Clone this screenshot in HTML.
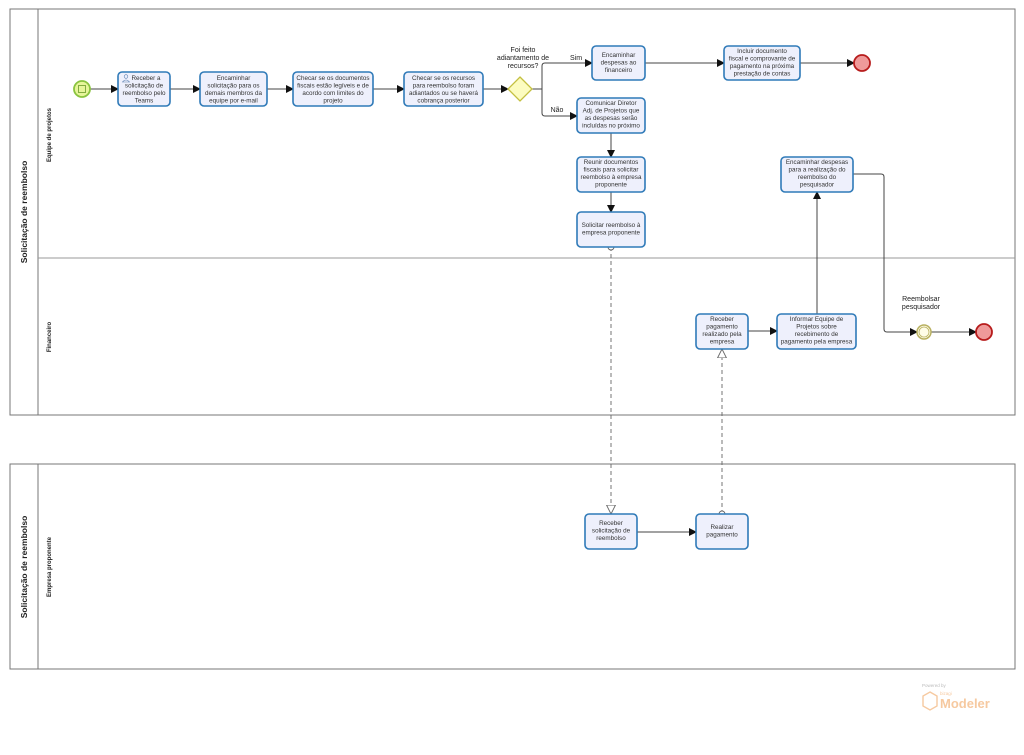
<!DOCTYPE html>
<html><head><meta charset="utf-8"><style>
html,body{margin:0;padding:0;background:#fff;}
svg{display:block;font-family:"Liberation Sans",sans-serif;}
.t{fill:#eef0fc;stroke:#2f7ab8;stroke-width:1.6;}
.tx{font-size:6.3px;fill:#333;text-anchor:middle;}
.ln{stroke:#444;stroke-width:1;fill:none;}
.ms{stroke:#666;stroke-width:0.9;fill:none;stroke-dasharray:4,3;}
.lb{font-size:7px;fill:#222;text-anchor:middle;}
</style></head><body>
<svg width="1024" height="755" viewBox="0 0 1024 755" xmlns="http://www.w3.org/2000/svg">
<defs>
<marker id="a" markerWidth="8" markerHeight="8" refX="7" refY="4" orient="auto" markerUnits="userSpaceOnUse"><path d="M0,0 L8,4 L0,8 z" fill="#111"/></marker>
<marker id="h" markerWidth="10" markerHeight="10" refX="9" refY="5" orient="auto" markerUnits="userSpaceOnUse"><path d="M0,0.5 L9,5 L0,9.5 z" fill="#fff" stroke="#666" stroke-width="0.9"/></marker>
<marker id="o" markerWidth="8" markerHeight="8" refX="4" refY="4" orient="auto" markerUnits="userSpaceOnUse"><circle cx="4" cy="4" r="3" fill="#fff" stroke="#666" stroke-width="0.9"/></marker>
</defs>
<!-- Pool 1 -->
<rect x="10" y="9" width="1005" height="406" fill="#fff" stroke="#777" stroke-width="1"/>
<line x1="38" y1="9" x2="38" y2="415" stroke="#777"/>
<line x1="38" y1="258" x2="1015" y2="258" stroke="#999"/>
<text transform="translate(27,212) rotate(-90)" font-size="8.5" font-weight="bold" text-anchor="middle" fill="#222">Solicitação de reembolso</text>
<text transform="translate(51,135) rotate(-90)" font-size="6" font-weight="bold" text-anchor="middle" fill="#222">Equipe de projetos</text>
<text transform="translate(51,337) rotate(-90)" font-size="6" font-weight="bold" text-anchor="middle" fill="#222">Financeiro</text>
<!-- Pool 2 -->
<rect x="10" y="464" width="1005" height="205" fill="#fff" stroke="#777" stroke-width="1"/>
<line x1="38" y1="464" x2="38" y2="669" stroke="#777"/>
<text transform="translate(27,567) rotate(-90)" font-size="8.5" font-weight="bold" text-anchor="middle" fill="#222">Solicitação de reembolso</text>
<text transform="translate(51,567) rotate(-90)" font-size="6" font-weight="bold" text-anchor="middle" fill="#222">Empresa proponente</text>

<!-- sequence flows -->
<line class="ln" x1="90" y1="89" x2="118" y2="89" marker-end="url(#a)"/>
<line class="ln" x1="170" y1="89" x2="200" y2="89" marker-end="url(#a)"/>
<line class="ln" x1="267" y1="89" x2="293" y2="89" marker-end="url(#a)"/>
<line class="ln" x1="373" y1="89" x2="404" y2="89" marker-end="url(#a)"/>
<line class="ln" x1="483" y1="89" x2="508" y2="89" marker-end="url(#a)"/>
<path class="ln" d="M532,89 L542,89 L542,66 Q542,63 545,63 L592,63" marker-end="url(#a)"/>
<path class="ln" d="M542,89 L542,113 Q542,116 545,116 L577,116" marker-end="url(#a)"/>
<line class="ln" x1="645" y1="63" x2="724" y2="63" marker-end="url(#a)"/>
<line class="ln" x1="800" y1="63" x2="854" y2="63" marker-end="url(#a)"/>
<line class="ln" x1="611" y1="133" x2="611" y2="157" marker-end="url(#a)"/>
<line class="ln" x1="611" y1="192" x2="611" y2="212" marker-end="url(#a)"/>
<line class="ln" x1="748" y1="331" x2="777" y2="331" marker-end="url(#a)"/>
<line class="ln" x1="817" y1="314" x2="817" y2="192" marker-end="url(#a)"/>
<path class="ln" d="M853,174 L881,174 Q884,174 884,177 L884,329 Q884,332 887,332 L917,332" marker-end="url(#a)"/>
<line class="ln" x1="931" y1="332" x2="976" y2="332" marker-end="url(#a)"/>
<line class="ln" x1="637" y1="532" x2="696" y2="532" marker-end="url(#a)"/>
<!-- message flows -->
<line class="ms" x1="611" y1="247" x2="611" y2="514" marker-start="url(#o)" marker-end="url(#h)"/>
<line class="ms" x1="722" y1="514" x2="722" y2="349" marker-start="url(#o)" marker-end="url(#h)"/>

<!-- events -->
<circle cx="82" cy="89" r="8" fill="#e6f59a" stroke="#8ac43f" stroke-width="1.8"/>
<rect x="78.5" y="85.5" width="7" height="7" fill="none" stroke="#6a9a2a" stroke-width="0.8"/>
<circle cx="862" cy="63" r="8" fill="#ef9a9a" stroke="#b71c1c" stroke-width="1.8"/>
<circle cx="924" cy="332" r="7" fill="#fffde8" stroke="#b8b060" stroke-width="1.5"/>
<circle cx="924" cy="332" r="5" fill="none" stroke="#b8b060" stroke-width="0.8"/>
<circle cx="984" cy="332" r="8" fill="#ef9a9a" stroke="#b71c1c" stroke-width="1.8"/>
<!-- gateway -->
<path d="M520,77 L532,89 L520,101 L508,89 z" fill="#fcfcc0" stroke="#c4c040" stroke-width="1.3"/>
<text class="lb" x="523" y="52">Foi feito</text>
<text class="lb" x="523" y="60">adiantamento de</text>
<text class="lb" x="523" y="68">recursos?</text>
<text class="lb" x="576" y="60">Sim</text>
<text class="lb" x="557" y="112">Não</text>
<text class="lb" x="921" y="301">Reembolsar</text>
<text class="lb" x="921" y="309">pesquisador</text>

<!-- tasks -->
<g>
<rect class="t" x="118" y="72" width="52" height="34" rx="4"/>
<text class="tx"><tspan x="146" y="80">Receber a</tspan><tspan x="144" y="87.5">solicitação de</tspan><tspan x="144" y="95">reembolso pelo</tspan><tspan x="144" y="102.5">Teams</tspan></text>
<circle cx="126" cy="76.5" r="1.8" fill="none" stroke="#5a7fb0" stroke-width="0.6"/><path d="M122.5,82 Q126,78 129.5,82 z" fill="none" stroke="#5a7fb0" stroke-width="0.6"/>

<rect class="t" x="200" y="72" width="67" height="34" rx="4"/>
<text class="tx"><tspan x="233.5" y="80">Encaminhar</tspan><tspan x="233.5" y="87.5">solicitação para os</tspan><tspan x="233.5" y="95">demais membros da</tspan><tspan x="233.5" y="102.5">equipe por e-mail</tspan></text>

<rect class="t" x="293" y="72" width="80" height="34" rx="4"/>
<text class="tx"><tspan x="333" y="80">Checar se os documentos</tspan><tspan x="333" y="87.5">fiscais estão legíveis e de</tspan><tspan x="333" y="95">acordo com limites do</tspan><tspan x="333" y="102.5">projeto</tspan></text>

<rect class="t" x="404" y="72" width="79" height="34" rx="4"/>
<text class="tx"><tspan x="443.5" y="80">Checar se os recursos</tspan><tspan x="443.5" y="87.5">para reembolso foram</tspan><tspan x="443.5" y="95">adiantados ou se haverá</tspan><tspan x="443.5" y="102.5">cobrança posterior</tspan></text>

<rect class="t" x="592" y="46" width="53" height="34" rx="4"/>
<text class="tx"><tspan x="618.5" y="57">Encaminhar</tspan><tspan x="618.5" y="64.5">despesas ao</tspan><tspan x="618.5" y="72">financeiro</tspan></text>

<rect class="t" x="724" y="46" width="76" height="34" rx="4"/>
<text class="tx"><tspan x="762" y="53">Incluir documento</tspan><tspan x="762" y="60.5">fiscal e comprovante de</tspan><tspan x="762" y="68">pagamento na próxima</tspan><tspan x="762" y="75.5">prestação de contas</tspan></text>

<rect class="t" x="577" y="98" width="68" height="35" rx="4"/>
<text class="tx"><tspan x="611" y="105">Comunicar Diretor</tspan><tspan x="611" y="112.5">Adj. de Projetos que</tspan><tspan x="611" y="120">as despesas serão</tspan><tspan x="611" y="127.5">incluídas no próximo</tspan></text>

<rect class="t" x="577" y="157" width="68" height="35" rx="4"/>
<text class="tx"><tspan x="611" y="164">Reunir documentos</tspan><tspan x="611" y="171.5">fiscais para solicitar</tspan><tspan x="611" y="179">reembolso à empresa</tspan><tspan x="611" y="186.5">proponente</tspan></text>

<rect class="t" x="577" y="212" width="68" height="35" rx="4"/>
<text class="tx"><tspan x="611" y="227">Solicitar reembolso à</tspan><tspan x="611" y="234.5">empresa proponente</tspan></text>

<rect class="t" x="781" y="157" width="72" height="35" rx="4"/>
<text class="tx"><tspan x="817" y="164">Encaminhar despesas</tspan><tspan x="817" y="171.5">para a realização do</tspan><tspan x="817" y="179">reembolso do</tspan><tspan x="817" y="186.5">pesquisador</tspan></text>

<rect class="t" x="696" y="314" width="52" height="35" rx="4"/>
<text class="tx"><tspan x="722" y="321">Receber</tspan><tspan x="722" y="328.5">pagamento</tspan><tspan x="722" y="336">realizado pela</tspan><tspan x="722" y="343.5">empresa</tspan></text>

<rect class="t" x="777" y="314" width="79" height="35" rx="4"/>
<text class="tx"><tspan x="816.5" y="321">Informar Equipe de</tspan><tspan x="816.5" y="328.5">Projetos sobre</tspan><tspan x="816.5" y="336">recebimento de</tspan><tspan x="816.5" y="343.5">pagamento pela empresa</tspan></text>

<rect class="t" x="585" y="514" width="52" height="35" rx="4"/>
<text class="tx"><tspan x="611" y="525">Receber</tspan><tspan x="611" y="532.5">solicitação de</tspan><tspan x="611" y="540">reembolso</tspan></text>

<rect class="t" x="696" y="514" width="52" height="35" rx="4"/>
<text class="tx"><tspan x="722" y="529">Realizar</tspan><tspan x="722" y="536.5">pagamento</tspan></text>
</g>

<!-- watermark -->
<text x="922" y="687" font-size="4.5" fill="#bbb">Powered by</text>
<text x="940" y="695" font-size="4.5" fill="#f6c9a0">bizagi</text>
<path d="M930,692 L937,696 L937,706 L930,710 L923,706 L923,696 z" fill="none" stroke="#f6c9a0" stroke-width="1.4"/>
<text x="940" y="708" font-size="13" font-weight="bold" fill="#f6c9a0">Modeler</text>
</svg>
</body></html>
